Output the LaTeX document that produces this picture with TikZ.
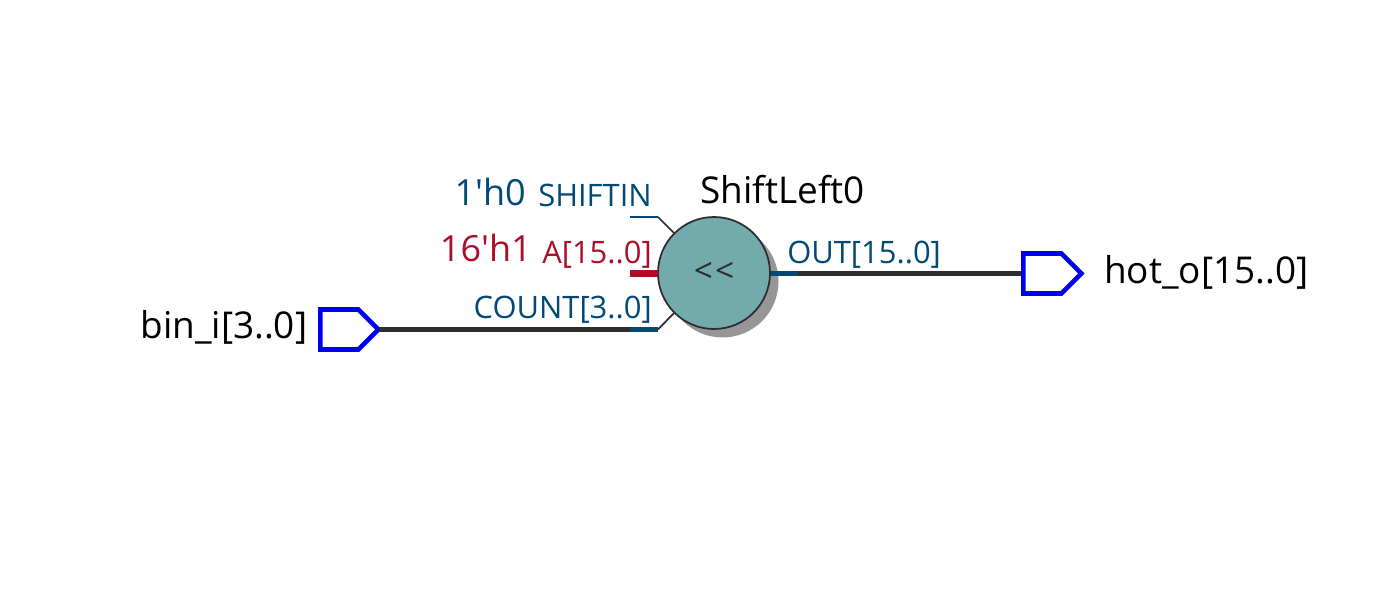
\documentclass[tikz,border=0pt]{standalone}
\usepackage{fontspec}
\setmainfont{Open Sans}
\newfontfamily\plainfont{Open Sans}
\usetikzlibrary{shapes.symbols}
\definecolor{pinblue}{RGB}{0,0,240}
\definecolor{netblue}{RGB}{0,74,117}
\definecolor{netred}{RGB}{172,14,40}
\definecolor{netdark}{RGB}{45,45,45}
\definecolor{shifterteal}{RGB}{115,171,173}
\definecolor{shadowgray}{RGB}{150,150,150}
\tikzset{
	portbox/.style={shape=signal,signal to=east,signal pointer angle=90,draw=pinblue,line width=3.5pt,
		minimum width=58*0.75pt,minimum height=40*0.75pt,inner sep=0pt,anchor=west},
	bus/.style={netdark,line width=3.7pt},
	stubbus/.style={netblue,line width=3.7pt},
	stubthin/.style={netblue,line width=1.3pt},
	slant/.style={netdark,line width=1.3pt},
	bigtext/.style={font=\fontsize{27.7}{32}\selectfont,text=black,inner sep=0pt},
	pintext/.style={font=\fontsize{23.2}{27}\selectfont,inner sep=0pt,anchor=base east},
	valtext/.style={font=\plainfont\fontsize{27}{32}\selectfont,inner sep=0pt,anchor=base east},
}
\begin{document}
\begin{tikzpicture}[x=0.75pt,y=-0.75pt]
	\useasboundingbox (0,0) rectangle (1378,616);
	\node[circle,fill=shadowgray,minimum size=112*0.75pt,inner sep=0pt] (shiftshadow) at (722.5,281.5) {};
	\node[circle,draw=netdark,line width=1.3pt,fill=shifterteal,minimum size=112*0.75pt,inner sep=0pt,
		font=\fontsize{25}{28}\selectfont,text=netdark] (shifter) at (714,273) {\raisebox{0.8pt}{<{\kern1.5pt}<}};
	\node[portbox] (binport) at (318,329.5) {};
	\node[portbox] (hotport) at (1021,273.5) {};
	\coordinate (shiftpin) at (658,217);
	\coordinate (shiftend) at (630,217);
	\coordinate (apin) at (658,273.5);
	\coordinate (aend) at (630,273.5);
	\coordinate (countpin) at (658,329.5);
	\coordinate (countend) at (630,329.5);
	\coordinate (outend) at (798,273.5);
	% pins
	\draw[stubthin] (shiftend) -- (shiftpin);
	\draw[slant] (shiftpin) -- (shifter.135);
	\draw[netred,line width=5pt] (aend) -- (apin);
	\draw[bus,shorten <=-2pt] (binport.east) -- (countend);
	\draw[stubbus] (countend) -- (countpin);
	\draw[slant] (countpin) -- (shifter.225);
	\draw[stubbus] (shifter.east |- outend) -- (outend);
	\draw[bus] (outend) -- (hotport.west);
	% labels
	\node[bigtext,anchor=base west] (shiftname) at (700,204) {ShiftLeft0};
	\node[bigtext,anchor=base east] (binname) at (307.5,339) {bin\_i[3..0]};
	\node[bigtext,anchor=base west] (hotname) at (1104,284) {hot\_o[15..0]};
	\node[valtext,text=netblue] (shiftval) at (526,206) {1'h0};
	\node[valtext,text=netred] (aval) at (532,262) {16'h1};
	\node[pintext,text=netblue] (shiftlabel) at (652,207) {SHIFTIN};
	\node[pintext,text=netred] (alabel) at (652,264) {A[15..0]};
	\node[pintext,text=netblue] (countlabel) at (652,319) {COUNT[3..0]};
	\node[pintext,text=netblue,anchor=base west] (outlabel) at (787,264) {OUT[15..0]};
\end{tikzpicture}
\end{document}
